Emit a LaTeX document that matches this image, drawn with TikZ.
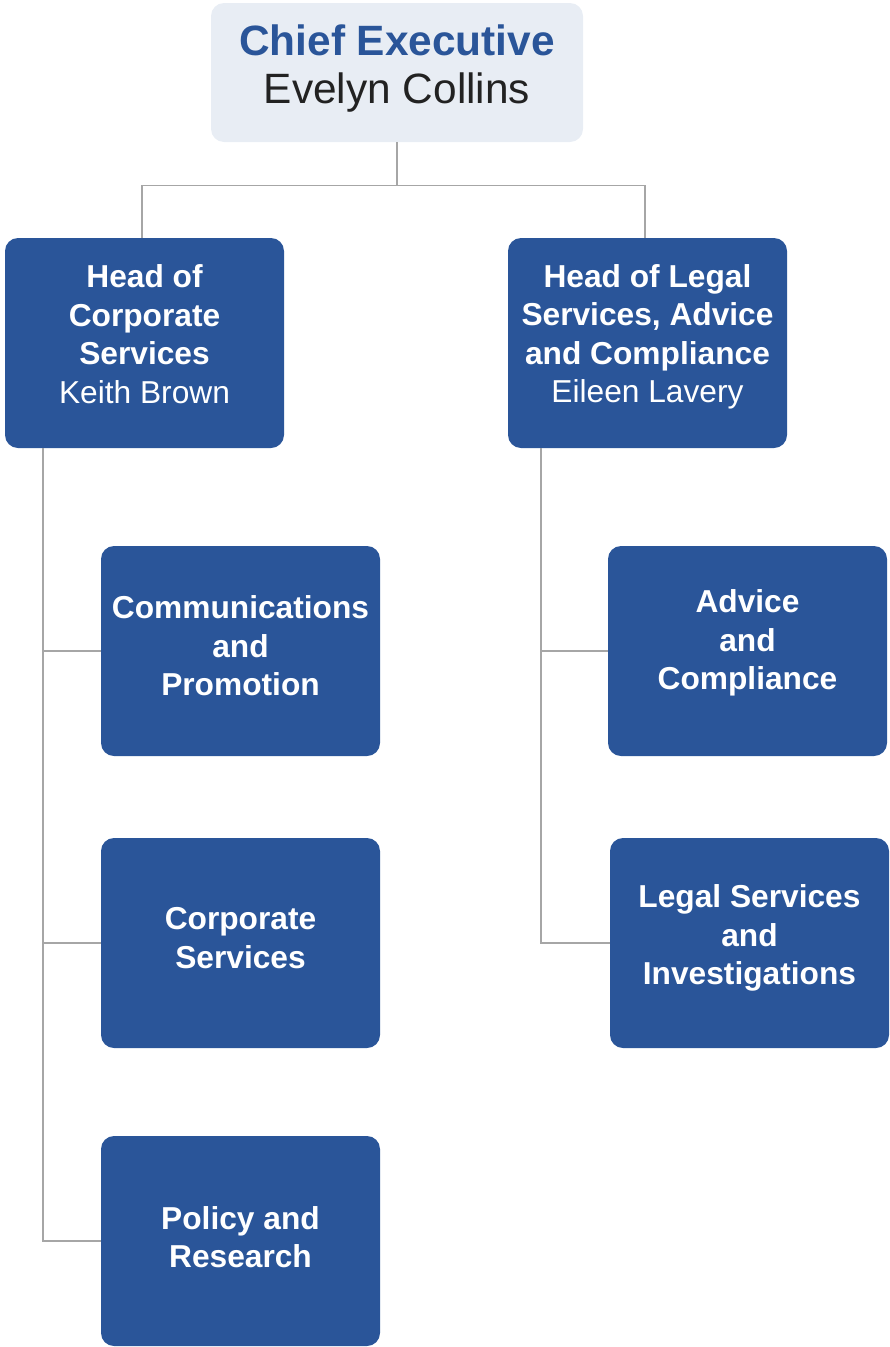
\documentclass[tikz,border=0pt]{standalone}
\usepackage{fontspec}
\setmainfont{Liberation Sans}
\usepackage{tikz}
\usetikzlibrary{positioning}
\definecolor{deptblue}{HTML}{2A5599}
\definecolor{ceofill}{HTML}{E8EDF4}
\definecolor{linkgray}{HTML}{A6A6A6}
\definecolor{nametext}{HTML}{222222}

\begin{document}
\begin{tikzpicture}[x=1pt, y=-1pt,
  dept/.style={fill=deptblue, rounded corners=13, minimum width=279, minimum height=210, inner sep=0},
  depttext/.style={text=white, font=\fontsize{31.7}{38.5}\selectfont, align=center},
  link/.style={draw=linkgray, line width=1.3pt}]
  \useasboundingbox (0,0) rectangle (890,1347);
  % chief executive
  \node (ceo) at (397,72.5) [fill=ceofill, rounded corners=13, minimum width=372, minimum height=139, inner sep=0,
    label={[font=\fontsize{42.4}{48}\selectfont, align=center, text=nametext, yshift=4]center:{{\color{deptblue}\bfseries Chief Executive}\\Evelyn Collins}}] {};
  % heads
  \node (corphead) at (144.5,343) [dept, label={[depttext, yshift=9]center:{\bfseries Head of\\\bfseries Corporate\\\bfseries Services\\Keith Brown}}] {};
  \node (legalhead) at (647.5,343) [dept, label={[depttext, yshift=6]center:{\bfseries Head of Legal\\\bfseries Services, Advice\\\bfseries and Compliance\\Eileen Lavery}}] {};
  % teams
  \node (comm) at (240.5,651) [dept, label={[depttext, yshift=5]center:{\bfseries Communications\\\bfseries and\\\bfseries Promotion}}] {};
  \node (corpsvc) at (240.5,943) [dept, label={[depttext, yshift=5]center:{\bfseries Corporate\\\bfseries Services}}] {};
  \node (policy) at (240.5,1241) [dept, label={[depttext, yshift=4]center:{\bfseries Policy and\\\bfseries Research}}] {};
  \node (advice) at (747.5,651) [dept, label={[depttext, yshift=8]center:{\bfseries Advice\\\bfseries and\\\bfseries Compliance}}] {};
  \node (legal) at (749.5,943) [dept, label={[depttext, yshift=5]center:{\bfseries Legal Services\\\bfseries and\\\bfseries Investigations}}] {};
  % connectors
  \coordinate (ltrunk) at (43,448);
  \coordinate (rtrunk) at (541,448);
  \draw[link] (ceo.south) -- ++(0,43) -| ([xshift=-2.5pt]corphead.north);
  \draw[link] (ceo.south) -- ++(0,43) -| ([xshift=-2.5pt]legalhead.north);
  \draw[link] (ltrunk) |- (comm.west);
  \draw[link] (ltrunk) |- (corpsvc.west);
  \draw[link] (ltrunk) |- (policy.west);
  \draw[link] (rtrunk) |- (advice.west);
  \draw[link] (rtrunk) |- (legal.west);
\end{tikzpicture}
\end{document}
